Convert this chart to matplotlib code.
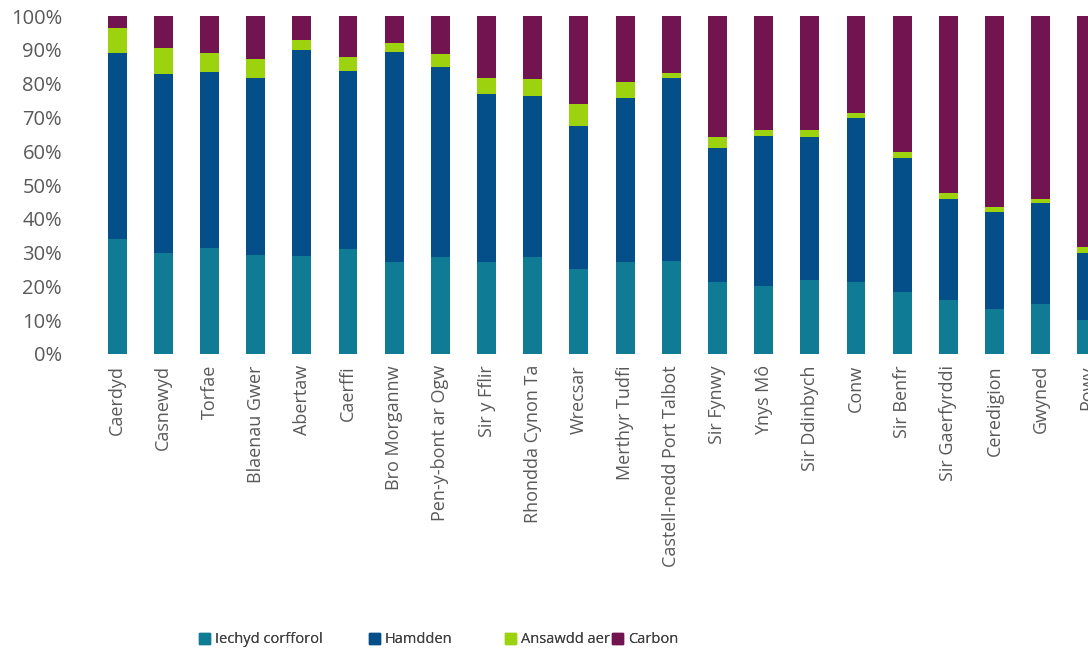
import matplotlib
matplotlib.use("Agg")
import numpy as np
import matplotlib.pyplot as plt
from matplotlib.patches import Patch

# ardaloedd (labels as they show, cut short)
ardaloedd = ["Caerdyd", "Casnewyd", "Torfae", "Blaenau Gwer", "Abertaw", "Caerffi",
             "Bro Morgannw", "Pen-y-bont ar Ogw", "Sir y Fflir", "Rhondda Cynon Ta",
             "Wrecsar", "Merthyr Tudfi", "Castell-nedd Port Talbot", "Sir Fynwy",
             "Ynys Mô", "Sir Ddinbych", "Conw", "Sir Benfr", "Sir Gaerfyrddi",
             "Ceredigion", "Gwyned", "Powy"]

# canran (%)
iechyd = [34.0, 29.9, 31.4, 29.3, 29.0, 31.1, 27.2, 28.7, 27.2, 28.7, 25.1,
          27.2, 27.5, 21.3, 20.1, 21.9, 21.3, 18.3, 16.0, 13.3, 14.8, 10.1]
hamdden = [55.1, 52.9, 52.0, 52.4, 60.9, 52.6, 62.1, 56.2, 49.7, 47.6, 42.4,
           48.5, 54.2, 39.6, 44.4, 42.3, 48.5, 39.7, 29.9, 28.7, 29.9, 19.8]
aer = [7.3, 7.7, 5.7, 5.6, 3.0, 4.2, 2.7, 3.9, 4.8, 5.1, 6.5,
       4.8, 1.4, 3.3, 1.8, 2.1, 1.5, 1.8, 1.7, 1.5, 1.2, 1.8]
carbon = [3.6, 9.5, 10.9, 12.7, 7.1, 12.1, 8.0, 11.2, 18.3, 18.6, 26.0,
          19.5, 16.9, 35.8, 33.7, 33.7, 28.7, 40.2, 52.4, 56.5, 54.1, 68.3]

cyfresi = ["Iechyd corfforol", "Hamdden", "Ansawdd aer", "Carbon"]
lliwiau = ["#0f7b94", "#044f8a", "#9dd20f", "#721450"]

plt.rcParams['font.family'] = ['Open Sans', 'DejaVu Sans']
plt.rcParams['ytick.major.pad'] = 23
plt.rcParams['xtick.major.pad'] = 8
plt.rcParams['ytick.major.size'] = 0
plt.rcParams['xtick.major.size'] = 0

fig = plt.figure(figsize=(10.88, 6.57), dpi=100)
ax = fig.add_axes([94 / 1088, 0.4612, 1016 / 1088, 0.5144])

x = np.arange(len(ardaloedd))
gwaelod = np.zeros(len(ardaloedd))
for vals, c in zip([iechyd, hamdden, aer, carbon], lliwiau):
    vals = np.array(vals)
    ax.bar(x, vals, width=0.41, bottom=gwaelod, color=c, linewidth=0)
    gwaelod += vals

ax.set_xlim(-0.5, 21.5)
ax.set_ylim(0, 100)
ax.set_yticks(np.arange(0, 101, 10))
ax.set_yticklabels([f"{v}%" for v in range(0, 101, 10)], fontsize=14.5, color='#595959')
ax.set_xticks(x)
ax.set_xticklabels(ardaloedd, rotation=90, va='top', ha='center', fontsize=13,
                   color='#595959')
for s in ax.spines.values():
    s.set_visible(False)

# legend, one item at a time (uneven gaps as in the original)
leg_x = [199, 369, 505, 612]
for name, c, px in zip(cyfresi, lliwiau, leg_x):
    lg = fig.legend(handles=[Patch(color=c)], labels=[name], loc='center left',
                    bbox_to_anchor=(px / 1088, 0.026), frameon=False,
                    borderpad=0, borderaxespad=0, handlelength=0.75,
                    handleheight=0.8, handletextpad=0.35, fontsize=10.5,
                    labelcolor='#404040')
    fig.add_artist(lg)

fig.savefig("out.png", dpi=100)
